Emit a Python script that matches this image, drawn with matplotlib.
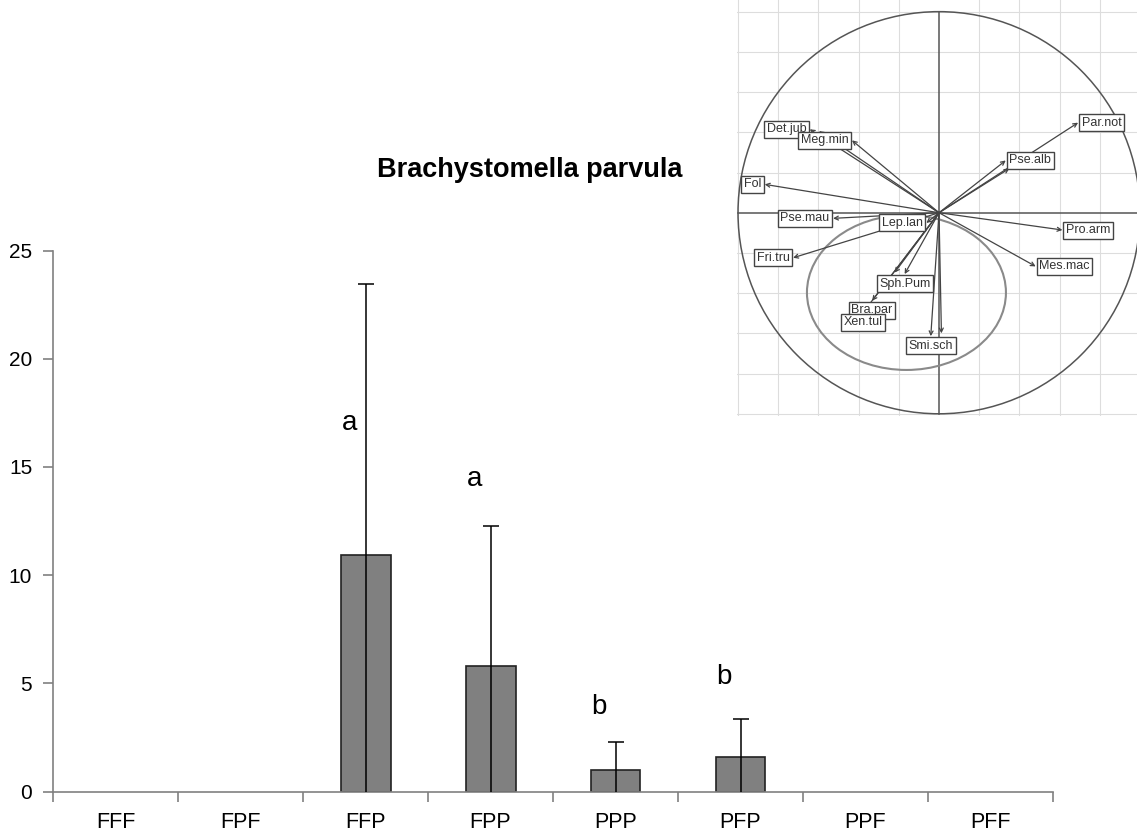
import matplotlib
matplotlib.use('Agg')
import matplotlib.pyplot as plt
from matplotlib.patches import Circle, Ellipse

plt.rcParams['font.family'] = ['Liberation Sans', 'DejaVu Sans']

# bar chart data
groups = ['FFF', 'FPF', 'FFP', 'FPP', 'PPP', 'PFP', 'PPF', 'PFF']
means = [0, 0, 10.95, 5.8, 1.0, 1.6, 0, 0]
errs = [0, 0, 12.5, 6.45, 1.27, 1.75, 0, 0]
letters = ['', '', 'a', 'a', 'b', 'b', '', '']
letter_y = [0, 0, 16.7, 14.1, 3.6, 4.95, 0, 0]

# correlation circle data (arrow tips)
species = ['Par.not', 'Pse.alb', None, 'Det.jub', None, 'Meg.min', 'Fol',
           'Pse.mau', 'Lep.lan', 'Fri.tru', 'Sph.Pum', None, 'Bra.par',
           'Xen.tul', 'Smi.sch', None, 'Pro.arm', 'Mes.mac']
axis1 = [0.692, 0.332, 0.35, -0.643, -0.597, -0.433, -0.867,
         -0.527, -0.063, -0.726, -0.171, -0.221, -0.333,
         -0.379, -0.041, 0.012, 0.614, 0.481]
axis2 = [0.448, 0.260, 0.22, 0.415, 0.406, 0.360, 0.141,
         -0.028, -0.051, -0.224, -0.305, -0.298, -0.438,
         -0.498, -0.614, -0.60, -0.086, -0.267]
ell_center = (-0.162, -0.397)
ell_size = (0.99, 0.77)

fig = plt.figure(figsize=(11.37, 8.39), dpi=100)
ax = fig.add_axes([53 / 1137, 1 - 791.5 / 839, 1000 / 1137, 541 / 839])

x = list(range(len(groups)))
xb = [xi for xi, m in zip(x, means) if m > 0]
mb = [m for m in means if m > 0]
eb = [e for m, e in zip(means, errs) if m > 0]
ax.bar(xb, mb, width=0.4, color='#808080', edgecolor='#222222', linewidth=1.2, zorder=2)
# error bars drawn from the base up through the bar, cap only on top
tops = [m + e for m, e in zip(mb, eb)]
ax.vlines(xb, 0, tops, color='black', lw=1.1, zorder=3)
ax.plot(xb, tops, ls='none', marker='_', ms=11, mew=1.1, color='black', zorder=3)
for xi, lt, ly in zip(x, letters, letter_y):
    if lt:
        ax.text(xi - 0.13, ly, lt, fontsize=20, ha='center', va='baseline')

ax.set_xlim(-0.5, 7.5)
ax.set_ylim(0, 25)
ax.set_yticks([0, 5, 10, 15, 20, 25])
ax.set_xticks([i - 0.5 for i in range(len(groups) + 1)])
ax.set_xticklabels([])
ax.set_xticks(x, minor=True)
ax.set_xticklabels(groups, minor=True)
ax.tick_params(axis='x', which='minor', length=0, pad=15, labelsize=15.5)
ax.tick_params(axis='x', which='major', length=7, color='#808080', width=1.2)
ax.tick_params(axis='y', length=7, color='#808080', width=1.2, labelsize=15, pad=8)
for s in ['top', 'right']:
    ax.spines[s].set_visible(False)
for s in ['left', 'bottom']:
    ax.spines[s].set_color('#808080')
    ax.spines[s].set_linewidth(1.2)

fig.text(530 / 1137, 1 - 170 / 839, 'Brachystomella parvula', fontsize=19.5,
         fontweight='bold', ha='center', va='center')

# inset correlation circle
ins = fig.add_axes([737 / 1137, 1 - 416 / 839, 400 / 1137, 416 / 839])
ins.set_xlim(-1.005, 0.985)
ins.set_ylim(-1.011, 1.058)
ins.axis('off')
for g in [-1.0, -0.8, -0.6, -0.4, -0.2, 0.2, 0.4, 0.6, 0.8, 1.0]:
    ins.axvline(g, color='#dddddd', lw=0.8, zorder=0)
    ins.axhline(g, color='#dddddd', lw=0.8, zorder=0)
ins.plot([-1, 1], [0, 0], color='#555555', lw=1.1, zorder=1)
ins.plot([0, 0], [-1, 1], color='#555555', lw=1.1, zorder=1)
ins.add_patch(Circle((0, 0), 1, fill=False, ec='#555555', lw=1.1, zorder=1))
ins.add_patch(Ellipse(ell_center, ell_size[0], ell_size[1], fill=False,
                      ec='#8a8a8a', lw=1.5, zorder=1))

for name, a1, a2 in zip(species, axis1, axis2):
    ins.annotate('', xy=(a1, a2), xytext=(0, 0),
                 arrowprops=dict(arrowstyle='->', color='#444444', lw=0.9,
                                 shrinkA=0, shrinkB=0, mutation_scale=7),
                 zorder=2)
for name, a1, a2 in zip(species, axis1, axis2):
    if name is None:
        continue
    if abs(a1) >= abs(a2):
        ha = 'left' if a1 > 0 else 'right'
        va = 'center'
        off = (2.5, 0) if a1 > 0 else (-2.5, 0)
    else:
        ha = 'center'
        va = 'top' if a2 < 0 else 'bottom'
        off = (0, -2.5) if a2 < 0 else (0, 2.5)
    ins.annotate(name, xy=(a1, a2), xytext=off, textcoords='offset points',
                 ha=ha, va=va, fontsize=9, color='#333333', zorder=3,
                 bbox=dict(boxstyle='square,pad=0.2', fc='white', ec='#444444', lw=1))

plt.savefig('out.png', dpi=100)
